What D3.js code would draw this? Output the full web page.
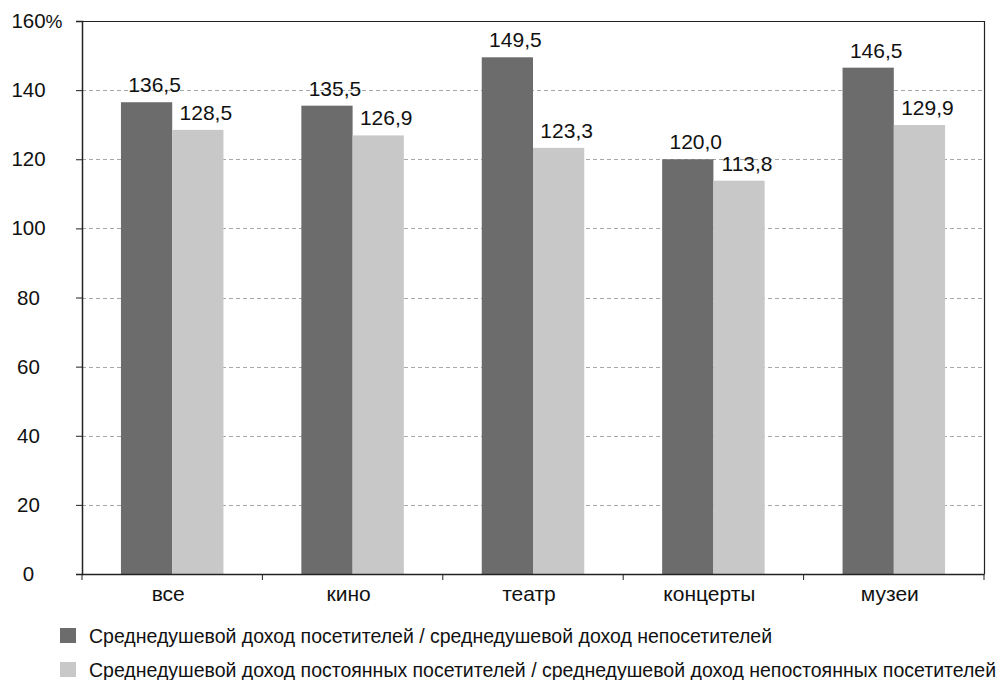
<!DOCTYPE html>
<html><head><meta charset="utf-8">
<script src="https://cdn.jsdelivr.net/npm/d3@7"></script>
<style>
body{margin:0;background:#fff;}
text{font-family:"Liberation Sans",Arial,sans-serif;fill:#111;}
</style></head>
<body>
<svg id="chart" width="1000" height="680"></svg>
<script>
const categories = ["все", "кино", "театр", "концерты", "музеи"];
const visitorsRatio = [136.5, 135.5, 149.5, 120.0, 146.5];
const regularRatio = [128.5, 126.9, 123.3, 113.8, 129.9];
const seriesNames = [
  "Среднедушевой доход посетителей / среднедушевой доход непосетителей",
  "Среднедушевой доход постоянных посетителей / среднедушевой доход непостоянных посетителей"
];
const yTicks = [0, 20, 40, 60, 80, 100, 120, 140, 160];
const colors = ["#6b6c6b", "#c8c8c8"];

const svg = d3.select("#chart");
const plotLeft = 82, plotRight = 984, plotTop = 21, plotBottom = 574;

const x = d3.scaleBand().domain(categories).range([plotLeft, plotRight]).paddingInner(0).paddingOuter(0);
const y = d3.scaleLinear().domain([0, 160]).range([plotBottom, plotTop]);
const inner = d3.scaleBand().domain([0, 1]).range([0, x.bandwidth()]).paddingOuter(0.76).paddingInner(0);

// grid
svg.append("g").selectAll("line").data(yTicks.filter(t => t > 0 && t < 160)).join("line")
  .attr("x1", plotLeft).attr("x2", plotRight)
  .attr("y1", d => Math.round(y(d)) + 0.5).attr("y2", d => Math.round(y(d)) + 0.5)
  .attr("stroke", "#a8a8a8").attr("stroke-dasharray", "4,3").attr("stroke-width", 1);

// frame (top and right)
svg.append("path")
  .attr("d", `M${plotLeft},${plotTop + 0.5}H${plotRight + 0.5}V${plotBottom}`)
  .attr("fill", "none").attr("stroke", "#222").attr("stroke-width", 1.2);

const series = [visitorsRatio, regularRatio];
series.forEach((vals, si) => {
  const g = svg.append("g");
  g.selectAll("rect").data(categories).join("rect")
    .attr("x", (c) => x(c) + inner(si))
    .attr("width", inner.bandwidth())
    .attr("y", (c, i) => y(vals[i]))
    .attr("height", (c, i) => plotBottom - y(vals[i]))
    .attr("fill", colors[si]);
  // value labels sit slightly right of the bar centre
  g.selectAll("text").data(categories).join("text")
    .attr("x", (c) => x(c) + inner(si) + inner.bandwidth() / 2 + 8)
    .attr("y", (c, i) => y(vals[i]) - 10)
    .attr("text-anchor", "middle")
    .attr("font-size", 21)
    .text((c, i) => d3.format(".1f")(vals[i]).replace(".", ","));
});

// y axis
const yAxis = d3.axisLeft(y).tickValues(yTicks).tickSize(6).tickFormat("");
const yg = svg.append("g").attr("transform", `translate(${plotLeft},0)`).call(yAxis);
yg.select(".domain").attr("stroke", "#222").attr("stroke-width", 1.5);
yg.selectAll(".tick line").attr("stroke", "#222");
svg.append("g").selectAll("text").data(yTicks).join("text")
  .attr("x", 28.5).attr("y", d => y(d) + 7)
  .attr("text-anchor", "middle").attr("font-size", 20.5)
  .text(d => d);
// percent sign after the top tick label
svg.append("text").attr("font-size", 19).attr("y", y(160) + 7)
  .attr("x", 45.5).text("%");

// x axis
const xAxis = d3.axisBottom(x).tickSize(0).tickFormat(d => d);
const xg = svg.append("g").attr("transform", `translate(0,${plotBottom})`).call(xAxis);
xg.select(".domain").attr("stroke", "#222").attr("stroke-width", 1.5);
xg.selectAll(".tick text").attr("font-size", 21).attr("dy", null).attr("y", 27).attr("x", -4)
  .style("font-family", "Liberation Sans, Arial, sans-serif").attr("fill", "#111");
svg.append("g").selectAll("line").data(d3.range(categories.length + 1)).join("line")
  .attr("x1", i => plotLeft + i * x.step()).attr("x2", i => plotLeft + i * x.step())
  .attr("y1", plotBottom).attr("y2", plotBottom + 6)
  .attr("stroke", "#222");

// legend
const lg = svg.append("g");
seriesNames.forEach((name, i) => {
  const ly = 636 + i * 34;
  lg.append("rect").attr("x", 60).attr("y", ly - 8).attr("width", 16).attr("height", 15).attr("fill", colors[i]);
  lg.append("text").attr("x", 89).attr("y", ly + 7).attr("font-size", 19.5).text(name);
});
</script>
</body></html>
